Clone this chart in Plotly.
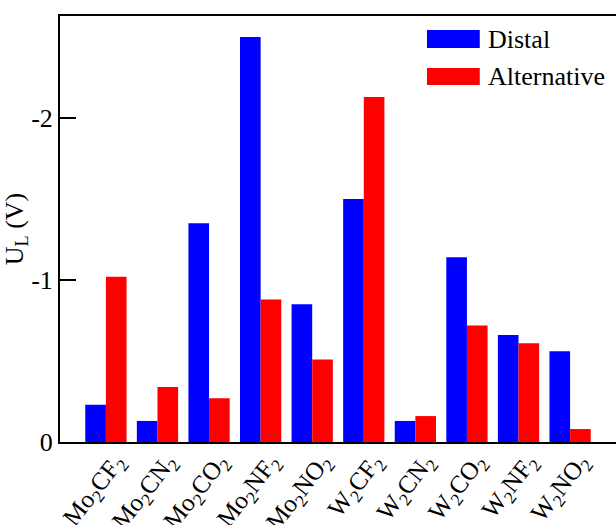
import plotly.graph_objects as go

categories = ["Mo2CF2", "Mo2CN2", "Mo2CO2", "Mo2NF2", "Mo2NO2",
              "W2CF2", "W2CN2", "W2CO2", "W2NF2", "W2NO2"]
tick_labels = ["Mo<sub>2</sub>CF<sub>2</sub>", "Mo<sub>2</sub>CN<sub>2</sub>",
               "Mo<sub>2</sub>CO<sub>2</sub>", "Mo<sub>2</sub>NF<sub>2</sub>",
               "Mo<sub>2</sub>NO<sub>2</sub>", "W<sub>2</sub>CF<sub>2</sub>",
               "W<sub>2</sub>CN<sub>2</sub>", "W<sub>2</sub>CO<sub>2</sub>",
               "W<sub>2</sub>NF<sub>2</sub>", "W<sub>2</sub>NO<sub>2</sub>"]
distal = [-0.23, -0.13, -1.35, -2.50, -0.85, -1.50, -0.13, -1.14, -0.66, -0.56]
alternative = [-1.02, -0.34, -0.27, -0.88, -0.51, -2.13, -0.16, -0.72, -0.61, -0.08]
y_ticks = [0, -1, -2]

FONT = "Liberation Serif"

x = list(range(len(categories)))
fig = go.Figure()
fig.add_trace(go.Bar(x=x, y=distal, name="Distal", marker=dict(color="#0000FF", line=dict(width=0)), showlegend=False))
fig.add_trace(go.Bar(x=x, y=alternative, name="Alternative", marker=dict(color="#FF0000", line=dict(width=0)), showlegend=False))

fig.update_layout(
    width=616, height=525,
    margin=dict(l=60, r=0, t=16, b=83),
    paper_bgcolor="white", plot_bgcolor="white",
    barmode="group", bargap=0.2, bargroupgap=0,
    font=dict(family=FONT, size=26, color="black"),
)
fig.update_xaxes(
    range=[-0.89, 9.89], tickmode="array", tickvals=x, ticktext=tick_labels,
    tickangle=-52, ticks="", showline=True, linecolor="black", linewidth=2,
    mirror=True, showgrid=False, zeroline=False, automargin=False,
    ticklabelshift=10, ticklabelstandoff=-7,
    tickfont=dict(family=FONT, size=25),
)
fig.update_yaxes(
    range=[0, -2.63], tickmode="array", tickvals=y_ticks, ticktext=[str(v) for v in y_ticks],
    ticks="inside", ticklen=16, tickwidth=2, tickcolor="black",
    showline=True, linecolor="black", linewidth=2, mirror=False, automargin=False,
    showgrid=False, zeroline=False, tickfont=dict(family=FONT, size=26),
    title=dict(text="U<sub>L</sub> (V)", font=dict(family=FONT, size=26), standoff=6),
)

# legend drawn manually to match swatch proportions
fig.add_shape(type="rect", xref="paper", yref="paper", x0=0.660, x1=0.755, y0=0.925, y1=0.967,
              fillcolor="#0000FF", line=dict(width=0))
fig.add_shape(type="rect", xref="paper", yref="paper", x0=0.660, x1=0.755, y0=0.838, y1=0.878,
              fillcolor="#FF0000", line=dict(width=0))
fig.add_annotation(xref="paper", yref="paper", x=0.766, y=0.946, text="Distal", showarrow=False,
                   xanchor="left", yanchor="middle", font=dict(family=FONT, size=26))
fig.add_annotation(xref="paper", yref="paper", x=0.766, y=0.857, text="Alternative", showarrow=False,
                   xanchor="left", yanchor="middle", font=dict(family=FONT, size=26))

fig.write_html("out.html")
